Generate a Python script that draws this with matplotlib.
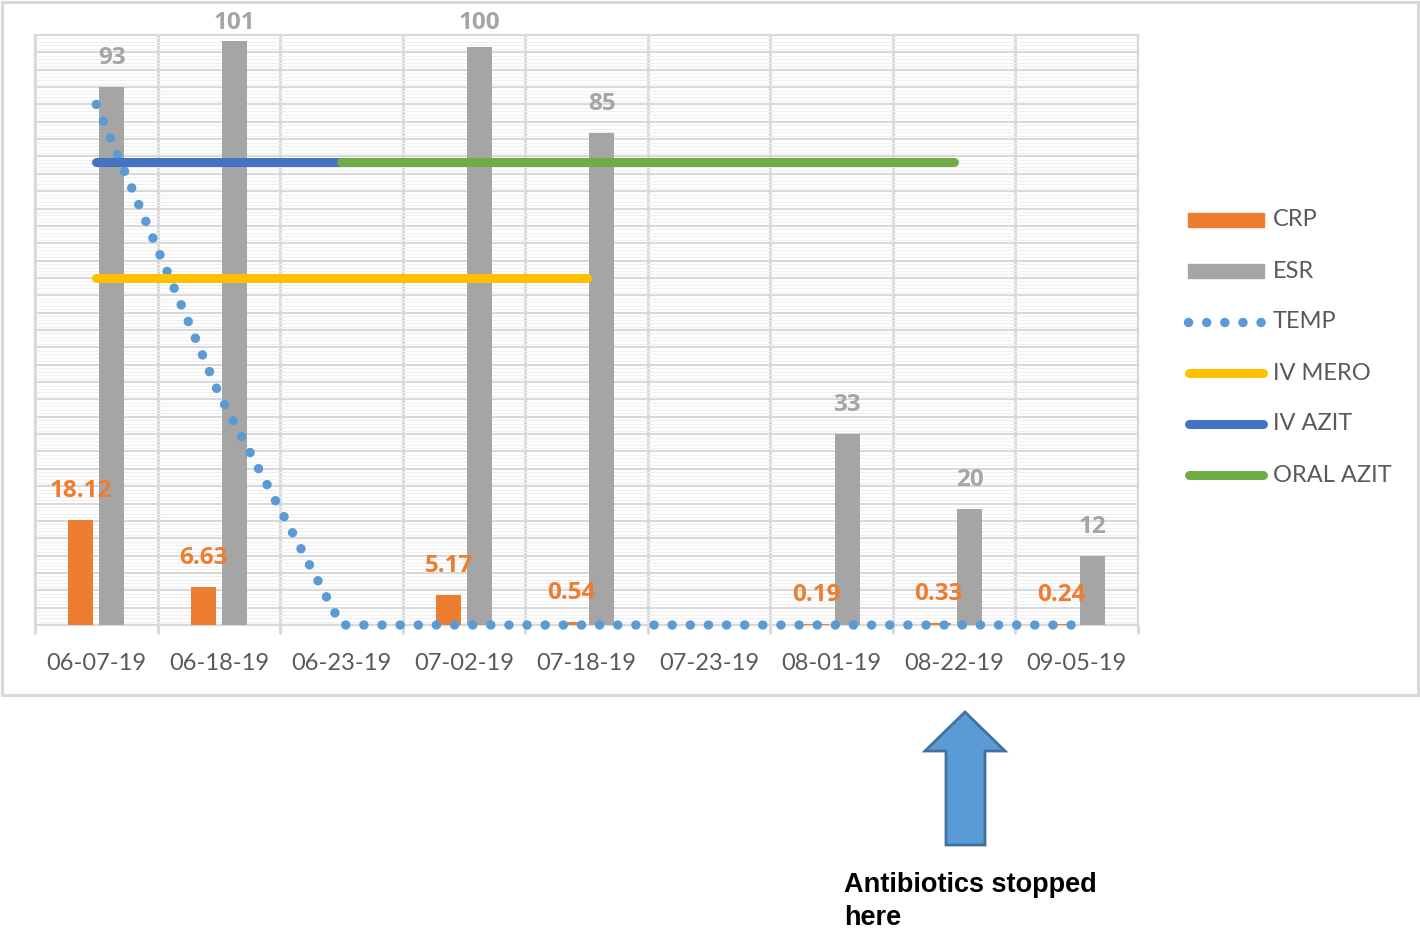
import numpy as np
import matplotlib
matplotlib.use("Agg")
import matplotlib.pyplot as plt
from matplotlib.patches import Rectangle, Polygon
from matplotlib.lines import Line2D

nan = np.nan

dates = ["06-07-19", "06-18-19", "06-23-19", "07-02-19", "07-18-19",
         "07-23-19", "08-01-19", "08-22-19", "09-05-19"]
crp = [18.12, 6.63, nan, 5.17, 0.54, nan, 0.19, 0.33, 0.24]
esr = [93, 101, nan, 100, 85, nan, 33, 20, 12]
temp = [90, 40, 0, 0, 0, 0, 0, 0, 0]
iv_mero = [60, 60, 60, 60, 60, nan, nan, nan, nan]
iv_azit = [80, 80, 80, nan, nan, nan, nan, nan, nan]
oral_azit = [nan, nan, 80, 80, 80, 80, 80, 80, nan]

C_CRP = "#ED7D31"
C_ESR = "#A5A5A5"
C_TEMP = "#5B9BD5"
C_MERO = "#FFC000"
C_IVAZ = "#4472C4"
C_ORAZ = "#70AD47"
GRID = "#d9d9d9"
TXT = "#595959"

plt.rcParams['font.family'] = ['Lato', 'DejaVu Sans']

W, H = 1420, 933
fig = plt.figure(figsize=(W / 100, H / 100), dpi=100)

# overlay in pixel coordinates for border, legend, arrow and note
ov = fig.add_axes([0, 0, 1, 1], zorder=0)
ov.set_xlim(0, W)
ov.set_ylim(H, 0)
ov.axis("off")

ax = fig.add_axes([35 / W, 1 - 625 / H, (1138 - 35) / W, (625 - 35) / H], zorder=1)
x = np.arange(len(dates))
bw = 0.204
off = 0.126

ax.bar(x - off, crp, bw, color=C_CRP, zorder=3)
ax.bar(x + off, esr, bw, color=C_ESR, zorder=3)

dot = dict(lw=6.8, linestyle=(0, (0.01, 1.91)), dash_capstyle="round")
ax.plot(x, temp, color=C_TEMP, zorder=4, clip_on=False, **dot)
line = dict(lw=6.5, solid_capstyle="round", zorder=5)
ax.plot(x, iv_mero, color=C_MERO, **line)
ax.plot(x, iv_azit, color=C_IVAZ, **line)
ax.plot(x, oral_azit, color=C_ORAZ, **line)

# data labels
lab = dict(fontsize=17.5, fontweight="bold", ha="center", va="center",
           clip_on=False, zorder=6, family=["Open Sans", "DejaVu Sans"])
for i in x:
    if not np.isnan(crp[i]):
        ax.text(i - off, min(crp[i] + 5.0, 104.1), f"{crp[i]:g}", color=C_CRP, **lab)
    if not np.isnan(esr[i]):
        ax.text(i + off, min(esr[i] + 5.0, 104.1), f"{esr[i]:g}", color=C_ESR, **lab)

ax.set_xlim(-0.5, len(dates) - 0.5)
ax.set_ylim(0, 102)
ax.set_xticks(x)
ax.set_xticklabels(dates, color=TXT, fontsize=17)
ax.set_xticks(np.arange(-0.5, len(dates)), minor=True)
ax.set_yticks(np.arange(0, 103, 3))
ax.set_yticks(np.arange(0, 102, 0.6), minor=True)
ax.tick_params(axis="x", which="major", length=0, pad=20)
ax.tick_params(axis="x", which="minor", length=6.5, width=2.2, color=GRID)
ax.tick_params(axis="y", which="both", length=0, labelleft=False)
ax.grid(axis="x", which="minor", color=GRID, lw=2.2, zorder=0)
ax.grid(axis="y", which="minor", color="#efefef", lw=0.8, zorder=0)
ax.grid(axis="y", which="major", color=GRID, lw=1.5, zorder=0)
ax.set_axisbelow(True)
for s in ax.spines.values():
    s.set_color(GRID)
    s.set_linewidth(1.6)

# outer chart border
ov.add_patch(Rectangle((2, 2), W - 4, 693, fill=False, ec=GRID, lw=2.2))

# legend
leg_y = [220, 271, 322, 373, 424, 475]
names = ["CRP", "ESR", "TEMP", "IV MERO", "IV AZIT", "ORAL AZIT"]
for yy, c in zip(leg_y[:2], [C_CRP, C_ESR]):
    ov.add_patch(Rectangle((1188, yy - 7), 76, 14, color=c))
ov.add_line(Line2D([1188, 1263], [322, 322], color=C_TEMP, **dot))
for yy, c in zip(leg_y[3:], [C_MERO, C_IVAZ, C_ORAZ]):
    ov.add_line(Line2D([1189, 1263], [yy, yy], color=c, lw=6.5, solid_capstyle="round"))
for yy, n in zip(leg_y, names):
    ov.text(1273, yy, n, color=TXT, fontsize=17, ha="left", va="center")

# arrow and note
ov.add_patch(Polygon([(965, 712), (1005, 751), (985, 751), (985, 845),
                      (946, 845), (946, 751), (925, 751)],
                     closed=True, fc="#5B9BD5", ec="#41719C", lw=2))
note = dict(fontsize=19.5, fontweight="bold", color="black", ha="left", va="center",
            family=["Liberation Sans", "DejaVu Sans"])
ov.text(844, 885, "Antibiotics stopped", **note)
ov.text(844, 918, "here", **note)

fig.savefig("out.png", dpi=100, facecolor="white")
